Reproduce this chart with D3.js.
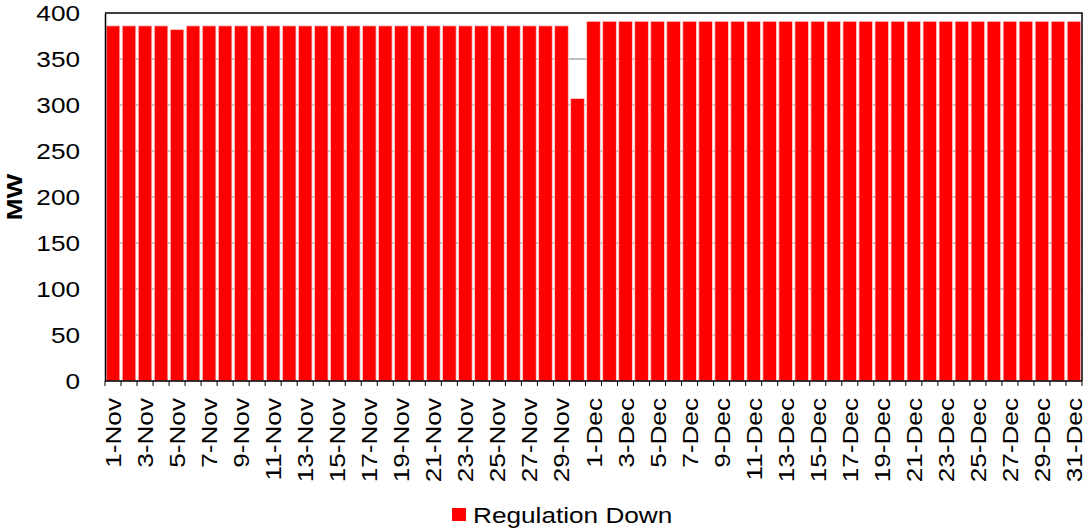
<!DOCTYPE html>
<html>
  <head>
    <meta charset="utf-8">
    <title>Regulation Down</title>
    <script src="https://d3js.org/d3.v7.min.js"></script>
    <style>
      body { margin: 0; background: #fff; }
      svg { display: block; font-family: Arial, "Liberation Sans", sans-serif; }
    </style>
  </head>
  <body>
    <svg id="chart" width="1086" height="529"></svg>
    <script>
      // data
      days = [];
      for (let i = 1; i <= 30; i++) days.push(i + "-Nov");
      for (let i = 1; i <= 31; i++) days.push(i + "-Dec");
      novValues = [386, 386, 386, 386, 382, 386, 386, 386, 386, 386,
                   386, 386, 386, 386, 386, 386, 386, 386, 386, 386,
                   386, 386, 386, 386, 386, 386, 386, 386, 386, 307];
      decValues = [391, 391, 391, 391, 391, 391, 391, 391, 391, 391,
                   391, 391, 391, 391, 391, 391, 391, 391, 391, 391,
                   391, 391, 391, 391, 391, 391, 391, 391, 391, 391, 391];
      values = novValues.concat(decValues);
      yTicks = [0, 50, 100, 150, 200, 250, 300, 350, 400];
      seriesName = "Regulation Down";

      svg = d3.select("#chart");
      margin = { left: 105, right: 1082, top: 13, bottom: 381 };
      fontSize = 22;
      stretch = 1.19; // the reference font is a bit wide

      x = d3.scaleBand()
        .domain(days)
        .range([margin.left, margin.right])
        .paddingInner(0.15)
        .paddingOuter(0.075);
      y = d3.scaleLinear()
        .domain([0, 400])
        .range([margin.bottom, margin.top]);

      // gridlines
      svg.append("g")
        .selectAll("line")
        .data(yTicks.slice(1, -1))
        .join("line")
          .attr("x1", margin.left)
          .attr("x2", margin.right)
          .attr("y1", d => y(d))
          .attr("y2", d => y(d))
          .attr("stroke", "#808080")
          .attr("stroke-width", 1);

      // bars
      svg.append("g")
        .selectAll("rect")
        .data(values)
        .join("rect")
          .attr("x", (d, i) => x(days[i]))
          .attr("y", d => y(d))
          .attr("width", x.bandwidth())
          .attr("height", d => y(0) - y(d))
          .attr("fill", "#ff0000")
          .attr("stroke", "#ffd0d0")
          .attr("stroke-width", 0.8);

      // plot border (top, right)
      svg.append("path")
        .attr("d", `M${margin.left},${margin.top}H${margin.right}V${margin.bottom}`)
        .attr("fill", "none")
        .attr("stroke", "#000")
        .attr("stroke-width", 1.5);

      // y axis
      yAxis = svg.append("g")
        .attr("transform", `translate(${margin.left},0)`)
        .call(d3.axisLeft(y).tickValues(yTicks).tickSize(0).tickPadding(25));
      yAxis.select(".domain").attr("stroke", "#000").attr("stroke-width", 1.5);
      yAxis.selectAll(".tick text")
        .attr("x", null)
        .attr("font-size", fontSize)
        .attr("font-family", "Arial, 'Liberation Sans', sans-serif")
        .attr("fill", "#000")
        .attr("transform", `translate(-25,0) scale(${stretch},1)`);

      // x axis: ticks between every category, labels on every other day
      step = x.step();
      xAxis = svg.append("g");
      xAxis.append("line")
        .attr("x1", margin.left)
        .attr("x2", margin.right)
        .attr("y1", y(0))
        .attr("y2", y(0))
        .attr("stroke", "#000")
        .attr("stroke-width", 1.5);
      xAxis.selectAll(".tick")
        .data(d3.range(days.length + 1))
        .join("line")
          .attr("x1", i => margin.left + i * step)
          .attr("x2", i => margin.left + i * step)
          .attr("y1", y(0))
          .attr("y2", y(0) + 5)
          .attr("stroke", "#000");
      xAxis.selectAll(".label")
        .data(days.filter((d, i) => i % 2 === 0))
        .join("text")
          .attr("transform", d => `translate(${x(d) + x.bandwidth() / 2 + 8},398) rotate(-90) scale(${stretch},1)`)
          .attr("text-anchor", "end")
          .attr("font-size", fontSize)
          .attr("fill", "#000")
          .text(d => d);

      // y title
      svg.append("text")
        .attr("transform", `translate(22,197) rotate(-90) scale(${stretch},1)`)
        .attr("text-anchor", "middle")
        .attr("font-size", fontSize)
        .attr("font-weight", "bold")
        .text("MW");

      // legend
      legend = svg.append("g").attr("transform", "translate(452,508)");
      legend.append("rect")
        .attr("width", 14)
        .attr("height", 13)
        .attr("fill", "#ff0000");
      legend.append("text")
        .attr("transform", `translate(21,15) scale(${stretch},1)`)
        .attr("font-size", fontSize)
        .text(seriesName);
    </script>
  </body>
</html>
